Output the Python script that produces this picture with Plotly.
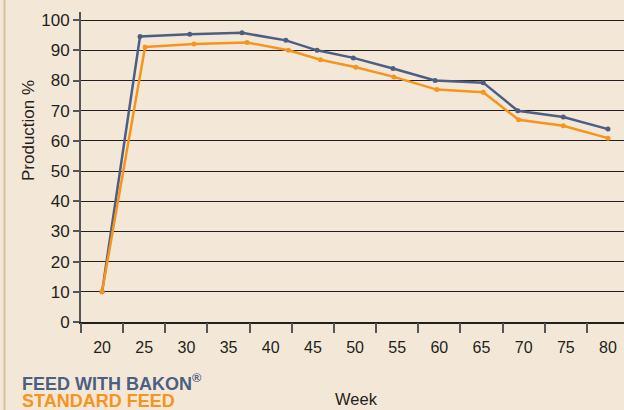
import plotly.graph_objects as go

# Data
bakon_weeks = [20, 24.5, 30.4, 36.6, 41.8, 45.5, 49.8, 54.5, 59.5, 65.2, 69.3, 74.7, 80]
bakon_prod = [10, 94.6, 95.3, 95.8, 93.3, 90.0, 87.5, 84.0, 80.0, 79.3, 70.0, 67.9, 63.9]
std_weeks = [20, 25.1, 30.9, 37.2, 42.1, 45.9, 50.1, 54.6, 59.7, 65.2, 69.4, 74.7, 80]
std_prod = [10, 91.1, 92.1, 92.6, 90.0, 86.9, 84.4, 81.2, 77.0, 76.1, 67.0, 65.0, 60.9]
week_ticks = [20, 25, 30, 35, 40, 45, 50, 55, 60, 65, 70, 75, 80]
boundary_ticks = [17.5, 22.5, 27.5, 32.5, 37.5, 42.5, 47.5, 52.5, 57.5, 62.5, 67.5, 72.5, 77.5]
y_ticks = [0, 10, 20, 30, 40, 50, 60, 70, 80, 90, 100]

BLUE = "#4C5F82"
ORANGE = "#F7941D"
BG = "#F3E8D7"
FONT = "Liberation Sans, Arial, sans-serif"

fig = go.Figure()
fig.add_trace(go.Scatter(x=bakon_weeks, y=bakon_prod, mode="lines+markers",
                         line=dict(color=BLUE, width=2.5), marker=dict(size=5, color=BLUE),
                         name="FEED WITH BAKON®", showlegend=False))
fig.add_trace(go.Scatter(x=std_weeks, y=std_prod, mode="lines+markers",
                         line=dict(color=ORANGE, width=2.5), marker=dict(size=5, color=ORANGE),
                         name="STANDARD FEED", showlegend=False))
# invisible trace to activate the overlay axis for the boundary ticks
fig.add_trace(go.Scatter(x=[boundary_ticks[0]], y=[0], xaxis="x2", mode="markers",
                         marker=dict(opacity=0), showlegend=False, hoverinfo="skip"))

XR = [17.5, 81.9]
fig.update_layout(
    width=624, height=410,
    margin=dict(l=81, r=0, t=12, b=88, autoexpand=False),
    paper_bgcolor=BG, plot_bgcolor=BG,
    font=dict(family=FONT, color="#231F20"),
    xaxis=dict(range=XR, tickvals=week_ticks, ticktext=[str(w) for w in week_ticks],
               ticks="outside", ticklen=10, tickcolor="rgba(0,0,0,0)",
               tickfont=dict(size=16), showgrid=False, zeroline=False, automargin=False,
               showline=True, linecolor="#231F20", linewidth=2),
    xaxis2=dict(range=XR, overlaying="x", side="bottom", tickvals=boundary_ticks,
                showticklabels=False, ticks="outside", ticklen=10, tickwidth=2,
                tickcolor="#555555", showgrid=False, zeroline=False, showline=False,
                automargin=False),
    yaxis=dict(range=[0, 102.7], tickvals=y_ticks, ticks="outside", ticklen=6,
               tickwidth=2, tickcolor="#555555", tickfont=dict(size=17),
               showgrid=True, gridcolor="#231F20", gridwidth=1.3, zeroline=False,
               showline=True, linecolor="#555555", linewidth=2, automargin=False),
    shapes=[dict(type="line", xref="paper", yref="paper",
                 x0=(4.5 - 81) / 543, x1=(4.5 - 81) / 543, y0=-88 / 310, y1=1 + 12 / 310,
                 line=dict(color="#D6BF9B", width=2))],
    annotations=[
        dict(text="Production %", xref="paper", yref="paper", x=(28 - 81) / 543,
             y=(322 - 131) / 310, textangle=-90, showarrow=False, font=dict(size=17),
             xanchor="center", yanchor="middle"),
        dict(text="Week", xref="paper", yref="paper", x=(356 - 81) / 543, y=(322 - 399) / 310,
             showarrow=False, font=dict(size=16.5), xanchor="center", yanchor="middle"),
        dict(text="<b>FEED WITH BAKON<sup>®</sup></b>", xref="paper", yref="paper",
             x=(20 - 81) / 543, y=(322 - 382) / 310, showarrow=False,
             font=dict(size=18, color=BLUE), xanchor="left", yanchor="middle"),
        dict(text="<b>STANDARD FEED</b>", xref="paper", yref="paper",
             x=(20 - 81) / 543, y=(322 - 401) / 310, showarrow=False,
             font=dict(size=18, color=ORANGE), xanchor="left", yanchor="middle"),
    ],
)
fig.write_html("out.html", config={"displayModeBar": False},
               post_script="document.body.style.margin='0';document.body.style.background='%s';" % BG)
